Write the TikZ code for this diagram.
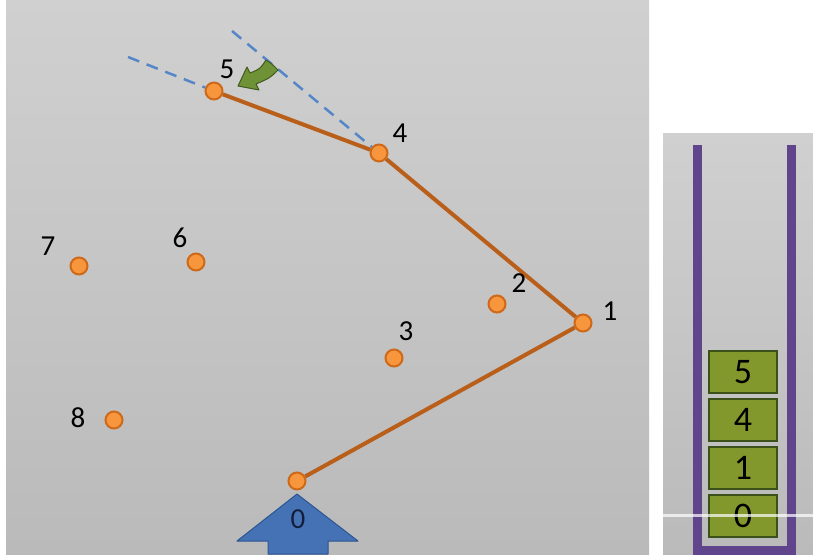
\documentclass[tikz,border=0pt]{standalone}
\usepackage{fontspec}
\setmainfont{Carlito}
\definecolor{bgA}{RGB}{208,208,208}
\definecolor{bgB}{RGB}{186,186,186}
\definecolor{dotfill}{RGB}{247,150,60}
\definecolor{dotdraw}{RGB}{205,105,25}
\definecolor{pathc}{RGB}{185,95,25}
\definecolor{dashc}{RGB}{85,135,200}
\definecolor{arrowblue}{RGB}{68,114,180}
\definecolor{arrowblueD}{RGB}{45,85,145}
\definecolor{greenA}{RGB}{112,146,55}
\definecolor{greenD}{RGB}{65,90,30}
\definecolor{stackp}{RGB}{96,68,140}
\definecolor{boxg}{RGB}{130,152,45}
\definecolor{boxgD}{RGB}{60,80,25}
\definecolor{navy}{RGB}{20,30,60}
\begin{document}
\begin{tikzpicture}[x=1pt,y=-1pt,
  dot/.style={circle,fill=dotfill,draw=dotdraw,line width=2pt,minimum size=17pt,inner sep=0pt},
  lbl/.style={inner sep=0pt,font=\fontsize{29}{29}\selectfont,text=black},
  route/.style={draw=pathc,line width=4pt},
  guide/.style={draw=dashc,line width=2.5pt,dash pattern=on 12pt off 8pt},
  stackbox/.style={draw=boxgD,fill=boxg,line width=2pt,minimum width=68pt,minimum height=42pt,inner sep=0pt,font=\fontsize{36}{36}\selectfont,text=black}]
\useasboundingbox (0,0) rectangle (813,554);
\fill[white] (0,0) rectangle (813,554);
% panels
\shade[top color=bgA,bottom color=bgB] (6,0) rectangle (649,554);
\shade[top color=bgA,bottom color=bgB] (663,133) rectangle (813,554);
% guide coordinates
\coordinate (g1) at (128,57);
\coordinate (g2) at (232,31);
% points
\node[dot] (p0) at (297,481) {};
\node[dot] (p1) at (583,323) {};
\node[dot] (p2) at (497,304) {};
\node[dot] (p3) at (394,358) {};
\node[dot] (p4) at (379,153) {};
\node[dot] (p5) at (214,91) {};
\node[dot] (p6) at (196,262) {};
\node[dot] (p7) at (79,266) {};
\node[dot] (p8) at (114,420) {};
% dashed guides
\draw[guide] (g1) -- (p5);
\draw[guide] (g2) -- (p4);
% route
\draw[route] (p0) -- (p1) -- (p4) -- (p5);
% labels
\node[lbl] (l5) at (227,69) {5};
\node[lbl] (l4) at (400,133) {4};
\node[lbl] (l7) at (48,246) {7};
\node[lbl] (l6) at (180,238) {6};
\node[lbl] (l2) at (519,283) {2};
\node[lbl] (l1) at (610,311) {1};
\node[lbl] (l3) at (406,331) {3};
\node[lbl] (l8) at (78,418) {8};
% green turn arrow
\filldraw[fill=greenA,draw=greenD,line width=1pt,line join=round]
  (266,60) .. controls (272,64) .. (278,70) .. controls (270,78) .. (256,84) -- (259,90) -- (238,86) -- (247,67) -- (250,73) .. controls (260,69) .. cycle;
% blue start arrow
\filldraw[fill=arrowblue,draw=arrowblueD,line width=1pt,line join=round]
  (297,494) -- (358,541) -- (328,541) -- (328,554) -- (268,554) -- (268,541) -- (237,541) -- cycle;
\node[lbl,text=navy] (l0) at (298,519) {0};
% stack
\draw[stackp,line width=9pt] (697,145) -- (697,550) -- (791,550) -- (791,145);
\node[stackbox] (s5) at (743,372) {5};
\node[stackbox] (s4) at (743,420) {4};
\node[stackbox] (s1) at (743,468) {1};
\node[stackbox] (s0) at (743,516) {0};
\draw[white,opacity=0.7,line width=3pt] (663,515) -- (813,515);
\end{tikzpicture}
\end{document}
